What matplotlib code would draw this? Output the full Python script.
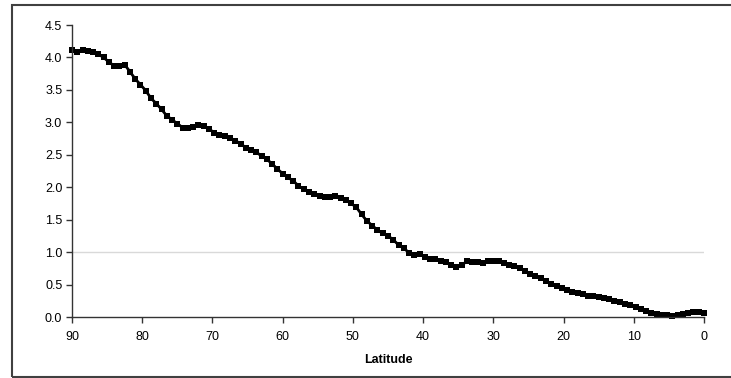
import matplotlib
matplotlib.use('Agg')
from matplotlib import pyplot as plt
from matplotlib.patches import Rectangle
import numpy as np

# latitudes on a 0.75 degree grid, from the pole down to the equator
latitude = np.arange(90, -0.01, -0.75)

# values
value = [
    4.11, 4.08, 4.11, 4.10, 4.09, 4.05, 4.00, 3.93, 3.87, 3.87,
    3.89, 3.78, 3.67, 3.58, 3.49, 3.37, 3.29, 3.20, 3.10, 3.04,
    2.98, 2.92, 2.92, 2.93, 2.96, 2.94, 2.90, 2.84, 2.80, 2.79,
    2.76, 2.72, 2.67, 2.61, 2.58, 2.54, 2.48, 2.43, 2.36, 2.28,
    2.21, 2.15, 2.10, 2.02, 1.97, 1.93, 1.90, 1.87, 1.85, 1.85,
    1.87, 1.83, 1.80, 1.75, 1.69, 1.58, 1.48, 1.41, 1.34, 1.29,
    1.25, 1.19, 1.11, 1.06, 0.99, 0.96, 0.97, 0.93, 0.90, 0.89,
    0.87, 0.84, 0.80, 0.77, 0.80, 0.86, 0.85, 0.84, 0.83, 0.87,
    0.87, 0.86, 0.83, 0.80, 0.78, 0.75, 0.71, 0.67, 0.63, 0.60,
    0.56, 0.51, 0.48, 0.45, 0.42, 0.39, 0.37, 0.35, 0.33, 0.32,
    0.31, 0.29, 0.27, 0.25, 0.23, 0.20, 0.18, 0.15, 0.12, 0.09,
    0.06, 0.04, 0.03, 0.03, 0.02, 0.03, 0.04, 0.06, 0.07, 0.08,
    0.06,
]

x_ticks = [90, 80, 70, 60, 50, 40, 30, 20, 10, 0]
y_ticks = [0.0, 0.5, 1.0, 1.5, 2.0, 2.5, 3.0, 3.5, 4.0, 4.5]

plt.rcParams['font.family'] = ['Liberation Sans', 'DejaVu Sans']

fig = plt.figure(figsize=(7.31, 3.78), dpi=100)
ax = fig.add_axes([72 / 731, 61 / 378, 632 / 731, 292 / 378])

# the single grey reference line at 1.0
ax.axhline(1.0, color='#d9d9d9', linewidth=1, zorder=0)

ax.plot(latitude, value, color='black', linewidth=2, marker='s',
        markersize=3.8, markeredgewidth=0, clip_on=False)

ax.set_xlim(90, 0)
ax.set_ylim(0, 4.5)
ax.set_xticks(x_ticks)
ax.set_yticks(y_ticks)
ax.set_yticklabels(['%.1f' % t for t in y_ticks])

for side in ['top', 'right']:
    ax.spines[side].set_visible(False)
for side in ['left', 'bottom']:
    ax.spines[side].set_color('#333333')
    ax.spines[side].set_linewidth(1)

ax.tick_params(axis='both', direction='out', length=4, width=1,
               color='#333333', labelsize=9, labelcolor='black')
ax.tick_params(axis='x', pad=6)
ax.tick_params(axis='y', pad=3)

ax.set_xlabel('Latitude', fontsize=9, fontweight='bold', labelpad=8)

# outer frame around the whole chart, open to the right like the source
frame = Rectangle((12 / 731, 1 / 378), 1.0, 372 / 378, transform=fig.transFigure,
                  fill=False, edgecolor='#404040', linewidth=1.5, clip_on=False)
fig.patches.append(frame)

fig.savefig('out.png', dpi=100)
